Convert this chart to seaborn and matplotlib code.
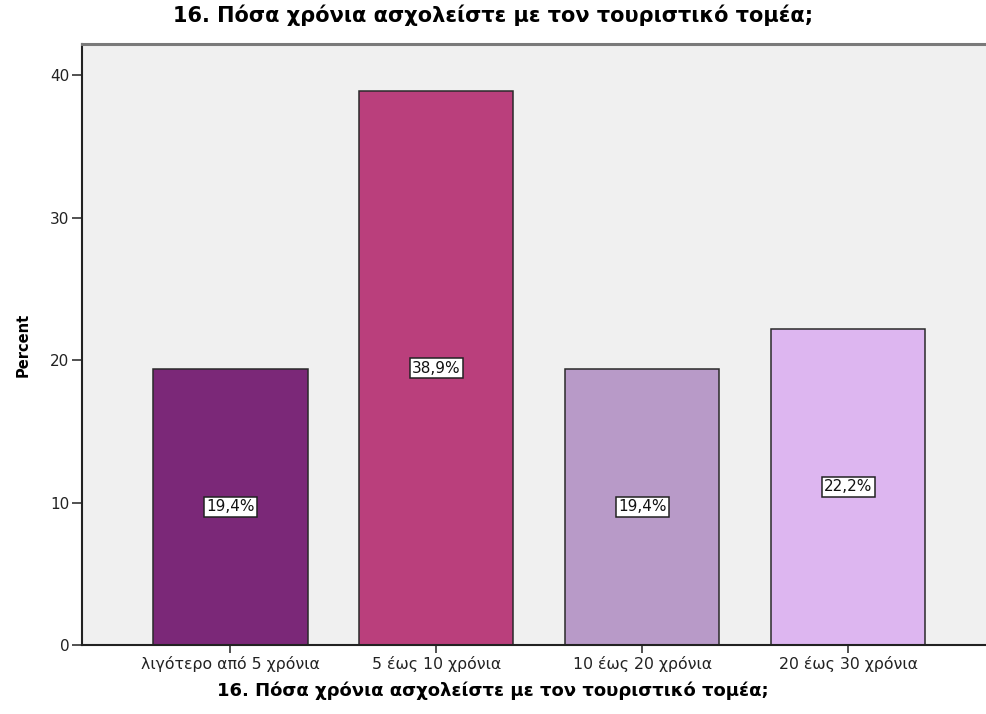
import matplotlib
matplotlib.use("Agg")
import matplotlib.pyplot as plt
import seaborn as sns
import pandas as pd

categories = ["λιγότερο από 5 χρόνια", "5 έως 10 χρόνια", "10 έως 20 χρόνια", "20 έως 30 χρόνια"]
percents = [19.4, 38.9, 19.4, 22.2]
bar_colors = ["#7B2878", "#BA3F7C", "#B89AC8", "#DDB6F0"]
title_text = "16. Πόσα χρόνια ασχολείστε με τον τουριστικό τομέα;"
y_ticks = [0, 10, 20, 30, 40]

sns.set_style("ticks")
plt.rcParams["font.family"] = ["DejaVu Sans"]

df = pd.DataFrame({"cat": categories, "pct": percents})

fig = plt.figure(figsize=(9.86, 7.14), dpi=100)
ax = fig.add_axes([0.0832, 0.0966, 0.9168, 0.8418])
ax.set_facecolor("#F0F0F0")

sns.barplot(data=df, x="cat", y="pct", hue="cat", palette=bar_colors,
            saturation=1, width=0.75, edgecolor="#2A2A2A", linewidth=1.1,
            legend=False, ax=ax, zorder=2)

ax.set_ylim(0, 42.2)
ax.set_xlim(-0.72, 3.67)
ax.set_yticks(y_ticks)
ax.set_yticklabels([str(t) for t in y_ticks], fontsize=11, color="#222222")
ax.tick_params(axis="y", direction="out", length=7, width=1.2, color="#333333", pad=2)
ax.tick_params(axis="x", direction="out", length=6, width=1.2, color="#333333",
               labelsize=11.3, labelcolor="#222222", pad=2)

for s in ["left", "bottom"]:
    ax.spines[s].set_color("#222222")
    ax.spines[s].set_linewidth(1.5)
ax.spines["top"].set_visible(True)
ax.spines["top"].set_color("#7A7A7A")
ax.spines["top"].set_linewidth(2.2)
ax.spines["right"].set_visible(False)

for i, v in enumerate(percents):
    ax.text(i, v / 2, f"{v:.1f}%".replace(".", ","), ha="center", va="center",
            fontsize=11, color="#111111", zorder=4,
            bbox=dict(boxstyle="square,pad=0.15", facecolor="white",
                      edgecolor="#222222", linewidth=1.1))

ax.set_ylabel("Percent", fontsize=10.5, fontweight="bold", labelpad=14, color="black")
ax.set_xlabel(title_text, fontsize=13, fontweight="bold", color="black")
# centre the axis title on the figure, like the main title
ax.xaxis.set_label_coords(0.5, 0.045, transform=fig.transFigure)
fig.suptitle(title_text, x=0.5, y=0.993, fontsize=15, fontweight="bold", color="black")

fig.savefig("out.png", dpi=100, facecolor="white")
